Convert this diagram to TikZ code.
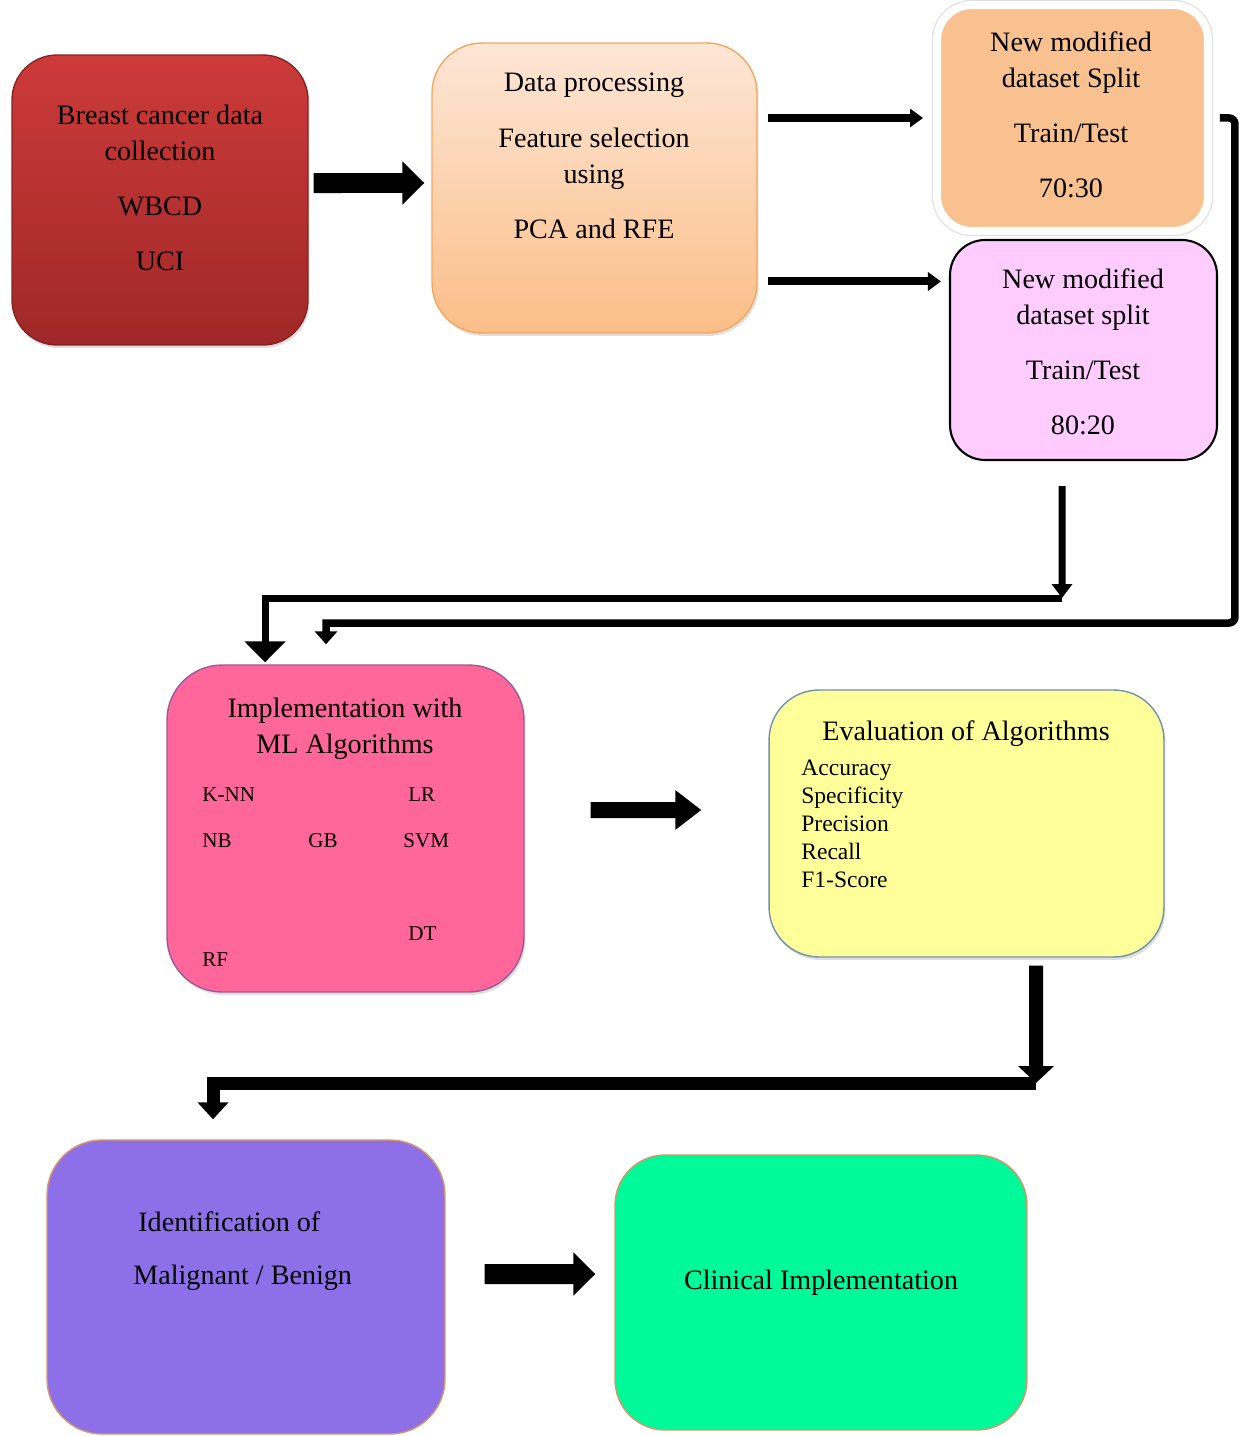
\documentclass[tikz,border=0pt]{standalone}
\usepackage{fontspec}
\setmainfont{Liberation Serif}
\usepackage{xcolor}
\usetikzlibrary{arrows.meta,shadows}
\definecolor{redtop}{HTML}{CD3A3A}
\definecolor{redbot}{HTML}{A02828}
\definecolor{peachtop}{HTML}{FDE6D6}
\definecolor{peachbot}{HTML}{FBBE88}
\definecolor{peachline}{HTML}{F2A85E}
\definecolor{orangefill}{HTML}{F9C18F}
\definecolor{lilac}{HTML}{FFCCFF}
\definecolor{rosefill}{HTML}{FF6699}
\definecolor{roseline}{HTML}{9A5A9A}
\definecolor{lemon}{HTML}{FFFF99}
\definecolor{lemonline}{HTML}{7090B0}
\definecolor{violetfill}{HTML}{8D70E8}
\definecolor{mintfill}{HTML}{00FA9A}
\definecolor{tanline}{HTML}{D8956A}
\tikzset{
  box/.style={rounded corners=#1,line width=0.8pt,inner sep=0pt},
  box/.default=1cm,
  soft/.style={drop shadow={opacity=0.25,shadow xshift=0.03cm,shadow yshift=-0.06cm}},
  txt/.style={inner sep=0pt,align=center,anchor=north,font=\fontsize{16}{20.5}\selectfont},
  alg/.style={inner sep=0pt,anchor=west,font=\fontsize{12}{14}\selectfont},
  blk/.style={line width=0.4cm,-{Triangle[length=0.44cm,width=0.84cm]}},
  thn/.style={line width=0.16cm,-{Triangle[length=0.26cm,width=0.36cm]}},
  elb/.style={line width=0.15cm}
}
\newcommand{\alg}[4]{\node[alg] (#1) at (#2,#3) {#4};}

\begin{document}
\begin{tikzpicture}[x=0.02cm,y=-0.02cm]
\useasboundingbox (0,0) rectangle (1241,1436);
% boxes
\node[box=0.9cm,soft,top color=redtop,bottom color=redbot,draw=redbot!85!black,minimum width=5.92cm,minimum height=5.8cm] (data) at (160,200) {};
\node[box,soft,top color=peachtop,bottom color=peachbot,draw=peachline,minimum width=6.5cm,minimum height=5.8cm] (proc) at (594.5,188) {};
\node[box=0.7cm,fill=orangefill,draw=white,line width=0.16cm,preaction={draw=black!12,line width=0.21cm},minimum width=5.42cm,minimum height=4.52cm] (split1) at (1072.5,118) {};
\node[box=0.7cm,fill=lilac,draw=black,line width=1.2pt,minimum width=5.34cm,minimum height=4.4cm] (split2) at (1083.5,350) {};
\node[box=1.1cm,soft,fill=rosefill,draw=roseline,minimum width=7.14cm,minimum height=6.54cm] (ml) at (345.5,828.5) {};
\node[box,soft,fill=lemon,draw=lemonline,minimum width=7.9cm,minimum height=5.34cm] (eval) at (966.5,823.5) {};
\node[box=1.1cm,fill=violetfill,draw=tanline,minimum width=7.96cm,minimum height=5.88cm] (ident) at (246,1287) {};
\node[box,fill=mintfill,draw=tanline,minimum width=8.24cm,minimum height=5.5cm] (clin) at (821,1292.5) {};

% texts
\node[txt] (datat) at (160,105) {Breast cancer data\\collection\\[10.8pt]WBCD\\[10.8pt]UCI};
\node[txt] (proct) at (594,73) {Data processing\\[11pt]Feature selection\\using\\[10.8pt]PCA and RFE};
\node[txt] (split1t) at (1071,31) {New modified\\dataset Split\\[10.8pt]Train/Test\\[10.8pt]70:30};
\node[txt] (split2t) at (1083,268) {New modified\\dataset split\\[10.8pt]Train/Test\\[10.8pt]80:20};
\node[txt] (mlt) at (345,698) {Implementation with\\ML Algorithms};
\alg{knn}{202}{795}{K-NN} \alg{lr}{408}{795}{LR}
\alg{nb}{202}{841}{NB} \alg{gb}{308}{841}{GB} \alg{svm}{403}{841}{SVM}
\alg{dt}{408}{934}{DT} \alg{rf}{202}{960}{RF}
\node[txt,anchor=center] (evalt) at (966,734) {Evaluation of Algorithms};
\node[txt,anchor=north west,align=left,font=\fontsize{13.4}{15.9}\selectfont] (evall) at (801,760) {Accuracy\\Specificity\\Precision\\Recall\\F1-Score};
\node[txt,anchor=west] (ident1) at (138,1222) {Identification of};
\node[txt,anchor=west] (ident2) at (133,1278) {Malignant / Benign};
\node[txt,anchor=center] (clint) at (821,1283) {Clinical Implementation};

% straight arrows
\draw[blk,shorten <=0.1cm,shorten >=0.14cm] ([yshift=0.34cm]data.east) -- ([yshift=0.1cm]proc.west);
\draw[thn,shorten <=0.2cm,shorten >=0.2cm] (proc.east |- split1.west) -- (split1.west);
\draw[thn,shorten <=0.2cm,shorten >=0.16cm] (proc.east |- split2.153) -- (split2.153);
\draw[blk,line width=0.32cm,-{Triangle[length=0.52cm,width=0.76cm]},shorten <=1.32cm,shorten >=1.34cm] ([yshift=0.37cm]ml.east) -- ([yshift=0.27cm]eval.west);
\draw[blk,shorten <=0.78cm,shorten >=0.38cm] ([yshift=0.26cm]ident.east) -- ([yshift=0.37cm]clin.west);

% elbow connectors
\coordinate (c1) at (1062,598);
\draw[elb,line width=0.14cm,-{Triangle[length=0.28cm,width=0.4cm]}] ([xshift=-0.43cm,yshift=-0.5cm]split2.south) -- (c1);
\draw[elb,line width=0.14cm,-{Triangle[length=0.42cm,width=0.8cm]}] (c1) -| ([xshift=-1.61cm,yshift=0.04cm]ml.north);
\draw[elb] ([xshift=0.16cm]split1.east) [rounded corners=0.12cm] -- ++(15,0) -- ++(0,505) [sharp corners,-{Triangle[length=0.26cm,width=0.44cm]}] -| ([xshift=-0.39cm,yshift=0.4cm]ml.north);
\coordinate (c3) at (1036,1083);
\draw[elb,line width=0.28cm,-{Triangle[length=0.34cm,width=0.7cm]}] ([xshift=1.39cm,yshift=-0.16cm]eval.south) -- (c3);
\draw[elb,line width=0.26cm,-{Triangle[length=0.34cm,width=0.6cm]}] (c3) -| ([xshift=-0.66cm,yshift=0.4cm]ident.north);
\end{tikzpicture}
\end{document}
